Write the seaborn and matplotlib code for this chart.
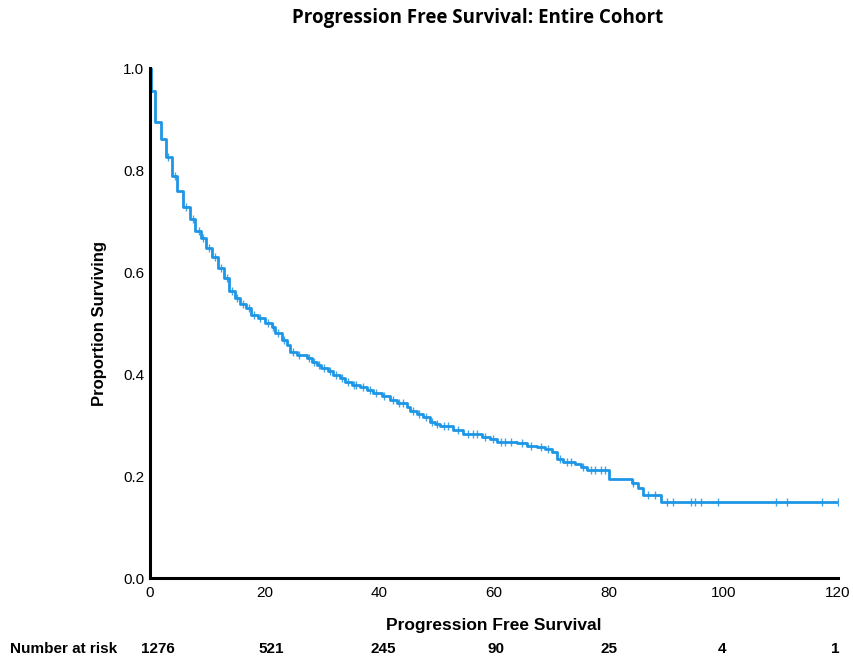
import numpy as np
import pandas as pd
import matplotlib
matplotlib.use("Agg")
import matplotlib.pyplot as plt
import seaborn as sns

# ---- data ----
event_times = [0.0, 0.2, 0.87, 1.87, 2.79, 3.78, 4.76, 5.81, 6.98, 7.85, 8.9, 9.77, 10.8, 11.9,
               12.9, 13.8, 14.8, 15.7, 16.8, 17.7, 18.8, 20.1, 21.2, 21.8, 23.0, 23.9, 24.4,
               25.6, 27.3, 28.2, 29.1, 29.9, 31.0, 31.9, 33.1, 34.0, 35.2, 36.6, 37.8, 38.9,
               40.4, 41.9, 43.0, 44.8, 45.4, 46.5, 47.6, 48.8, 49.7, 50.6, 52.9, 54.6, 57.9,
               59.3, 60.5, 64.0, 65.7, 67.5, 68.9, 70.1, 71.0, 72.1, 74.1, 75.1, 76.2, 80.1,
               84.0, 85.2, 86.0, 89.1, 120.0]
survival = [1.0, 0.955, 0.894, 0.861, 0.825, 0.788, 0.759, 0.728, 0.704, 0.681, 0.667, 0.647,
            0.630, 0.608, 0.588, 0.563, 0.549, 0.537, 0.529, 0.516, 0.510, 0.500, 0.493, 0.480,
            0.467, 0.457, 0.444, 0.437, 0.431, 0.424, 0.418, 0.412, 0.405, 0.398, 0.392, 0.385,
            0.378, 0.374, 0.369, 0.363, 0.356, 0.349, 0.344, 0.336, 0.328, 0.322, 0.316, 0.306,
            0.302, 0.299, 0.290, 0.282, 0.277, 0.272, 0.267, 0.264, 0.259, 0.256, 0.252, 0.248,
            0.233, 0.228, 0.224, 0.217, 0.212, 0.195, 0.186, 0.176, 0.163, 0.150, 0.150]
censor_times = [3.2, 4.3, 6.3, 7.5, 8.5, 9.3, 10.3, 11.4, 12.4, 13.4, 14.3, 15.2, 16.2, 17.2,
                18.2, 19.2, 20.5, 21.5, 22.4, 23.4, 24.9, 26.0, 27.8, 28.6, 29.5, 30.4, 31.4,
                32.4, 33.5, 34.5, 35.6, 36.0, 37.2, 38.3, 39.5, 40.9, 42.4, 43.5, 44.2, 45.9,
                47.0, 48.2, 49.2, 50.1, 51.2, 52.0, 53.8, 55.5, 56.3, 57.0, 58.5, 59.8, 61.2,
                62.0, 63.0, 64.8, 66.5, 68.2, 69.5, 71.5, 72.8, 73.5, 75.6, 76.9, 77.7, 78.6,
                79.4, 84.3, 86.8, 88.0, 90.2, 91.3, 94.3, 95.1, 96.1, 99.1, 109.2, 111.1,
                117.2, 120.0]
risk_times = [0, 20, 40, 60, 80, 100, 120]
at_risk = ["1276", "521", "245", "90", "25", "4", "1"]
x_ticks = [0, 20, 40, 60, 80, 100, 120]
y_ticks = [0.0, 0.2, 0.4, 0.6, 0.8, 1.0]

curve = pd.DataFrame({"time": event_times, "surv": survival})
idx = np.searchsorted(np.array(event_times), np.array(censor_times), side="right") - 1
censor = pd.DataFrame({"time": censor_times, "surv": np.array(survival)[idx]})

sns.set_theme(style="white")
plt.rcParams["font.family"] = ["Liberation Sans", "DejaVu Sans"]
plt.rcParams["text.color"] = "black"
plt.rcParams["axes.labelcolor"] = "black"
plt.rcParams["xtick.color"] = "black"
plt.rcParams["ytick.color"] = "black"

color = "#1E96E6"
fig = plt.figure(figsize=(8.54, 6.62), dpi=100)
ax = fig.add_axes([150 / 854, 1 - 578 / 662, (838 - 150) / 854, (578 - 68) / 662])

sns.lineplot(data=curve, x="time", y="surv", ax=ax, estimator=None, sort=False,
             drawstyle="steps-post", color=color, linewidth=2.0)
sns.scatterplot(data=censor, x="time", y="surv", ax=ax, marker="|", s=28,
                color=color, linewidth=1.0, alpha=0.85, zorder=3)

ax.set_xlim(0, 120)
ax.set_ylim(0, 1.0)
ax.set_xticks(x_ticks)
ax.set_xticklabels([str(t) for t in x_ticks])
ax.set_yticks(y_ticks)
ax.set_yticklabels([f"{t:.1f}" for t in y_ticks])
ax.tick_params(axis="both", length=0, labelsize=11, colors="black")
ax.tick_params(axis="x", pad=6)
ax.tick_params(axis="y", pad=4)
for s in ["top", "right"]:
    ax.spines[s].set_visible(False)
for s in ["left", "bottom"]:
    ax.spines[s].set_color("black")
    ax.spines[s].set_linewidth(2.2)

ax.set_xlabel("Progression Free Survival", fontsize=12.5, fontweight="bold",
              color="black", labelpad=13)
ax.set_ylabel("Proportion Surviving", fontsize=12, fontweight="bold",
              color="black", labelpad=12)

fig.text(478 / 854, 1 - 18 / 662, "Progression Free Survival: Entire Cohort",
         ha="center", va="center", fontsize=13.5, fontweight="bold", color="black",
         family=["Open Sans", "DejaVu Sans"])

fig.text(10 / 854, 1 - 649 / 662, "Number at risk", ha="left", va="center",
         fontsize=11, fontweight="bold", color="black")
for t, n in zip(risk_times, at_risk):
    xf = (158 + t * (677 / 120)) / 854
    fig.text(xf, 1 - 649 / 662, n, ha="center", va="center",
             fontsize=11, fontweight="bold", color="black")

fig.savefig("out.png", dpi=100)
